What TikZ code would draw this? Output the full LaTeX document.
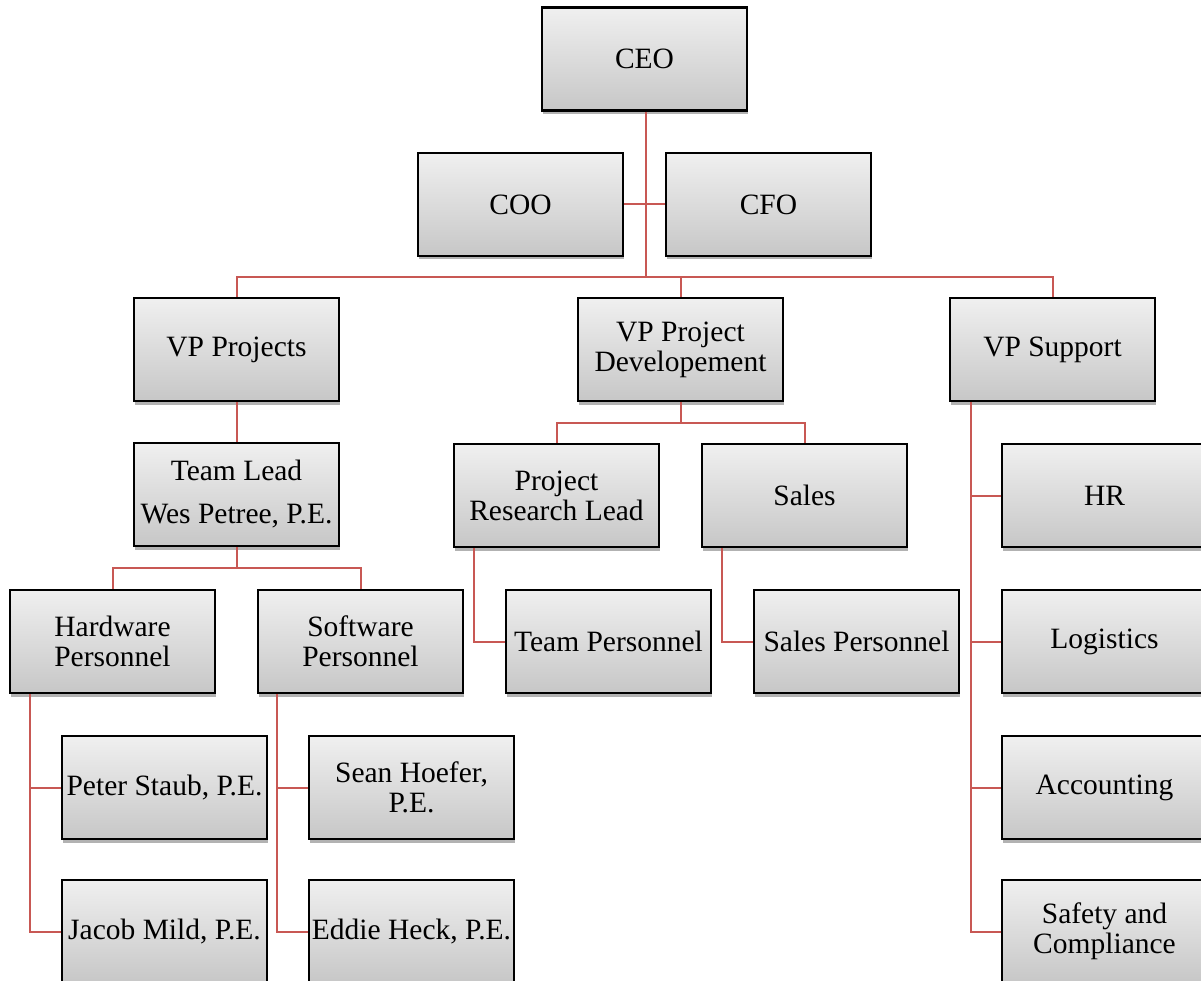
\documentclass[tikz,border=0pt]{standalone}
\usepackage{fontspec}
\setmainfont{Liberation Serif}
\usetikzlibrary{shadows}
\definecolor{conn}{RGB}{200,88,84}
\tikzset{
  box/.style={draw=black, line width=2.2pt, top color=black!6, bottom color=black!22,
    minimum width=205pt, minimum height=103pt, align=center, inner sep=2pt,
    font=\fontsize{29.5}{30}\selectfont,
    drop shadow={shadow xshift=1pt, shadow yshift=-3.5pt, opacity=0.3, fill=black}},
  link/.style={draw=conn, line width=2pt}
}
\begin{document}
\begin{tikzpicture}[x=1pt,y=1pt]
\useasboundingbox (0,0) rectangle (1201,-981);
\clip (0,0) rectangle (1201,-981);
\fill[white] (0,0) rectangle (1201,-981);
% nodes
\node[box] (ceo) at (644.5,-59) {CEO};
\node[box] (coo) at (520.5,-204.5) {COO};
\node[box] (cfo) at (768.5,-204.5) {CFO};
\node[box] (vpp) at (236.5,-349.5) {VP Projects};
\node[box] (vpd) at (680.5,-349.5) {VP Project\\Developement};
\node[box] (vps) at (1052.5,-349.5) {VP Support};
\node[box] (tl) at (236.5,-494.5) {Team Lead\\[13pt]Wes Petree, P.E.};
\node[box] (prl) at (556.5,-495.5) {Project\\Research Lead};
\node[box] (sales) at (804.5,-495.5) {Sales};
\node[box] (hw) at (112.5,-641.5) {Hardware\\Personnel};
\node[box] (sw) at (360.5,-641.5) {Software\\Personnel};
\node[box] (tp) at (608.5,-641.5) {Team Personnel};
\node[box] (sp) at (856.5,-641.5) {Sales Personnel};
\node[box] (ps) at (164.5,-787.5) {Peter Staub, P.E.};
\node[box] (jm) at (164.5,-931.5) {Jacob Mild, P.E.};
\node[box] (sh) at (411.5,-787.5) {Sean Hoefer,\\P.E.};
\node[box] (eh) at (411.5,-931.5) {Eddie Heck, P.E.};
\node[box] (hr) at (1104.5,-495.5) {HR};
\node[box] (log) at (1104.5,-641.5) {Logistics};
\node[box] (acc) at (1104.5,-787.5) {Accounting};
\node[box] (saf) at (1104.5,-931.5) {Safety and\\Compliance};
% connectors
\coordinate (b1) at (645.5,-277);
\coordinate (b2) at (680.5,-423);
\coordinate (b3) at (236.5,-568);
\draw[link] (ceo.south -| b1) -- (b1);
\draw[link] (coo.east) -- (cfo.west);
\draw[link] (vpp.north) |- (b1) -| (vps.north);
\draw[link] (vpd.north) -- (vpd.north |- b1);
\draw[link] (vpp.south) -- (tl.north);
\draw[link] (vpd.south) -- (b2);
\draw[link] (prl.north) |- (b2) -| (sales.north);
\draw[link] (tl.south) -- (b3);
\draw[link] (hw.north) |- (b3) -| (sw.north);
\draw[link] ([xshift=21pt]prl.south west) |- (tp.west);
\draw[link] ([xshift=21pt]sales.south west) |- (sp.west);
\draw[link] ([xshift=21pt]hw.south west) |- (ps.west);
\draw[link] ([xshift=21pt]hw.south west) |- (jm.west);
\draw[link] ([xshift=20pt]sw.south west) |- (sh.west);
\draw[link] ([xshift=20pt]sw.south west) |- (eh.west);
\draw[link] ([xshift=22pt]vps.south west) |- (hr.west);
\draw[link] ([xshift=22pt]vps.south west) |- (log.west);
\draw[link] ([xshift=22pt]vps.south west) |- (acc.west);
\draw[link] ([xshift=22pt]vps.south west) |- (saf.west);
\end{tikzpicture}
\end{document}
